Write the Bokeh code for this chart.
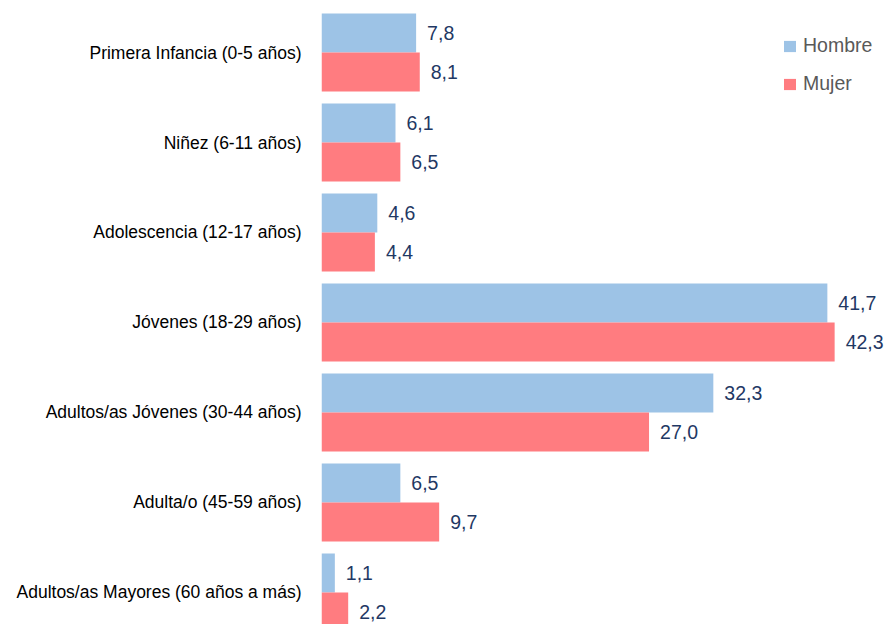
from bokeh.plotting import figure
from bokeh.models import ColumnDataSource, Range1d, FixedTicker, Legend, LegendItem
from bokeh.core.properties import value
from bokeh.embed import file_html
from bokeh.resources import INLINE

categories = [
    "Primera Infancia (0-5 años)",
    "Niñez (6-11 años)",
    "Adolescencia (12-17 años)",
    "Jóvenes (18-29 años)",
    "Adultos/as Jóvenes (30-44 años)",
    "Adulta/o (45-59 años)",
    "Adultos/as Mayores (60 años a más)",
]
hombre = [7.8, 6.1, 4.6, 41.7, 32.3, 6.5, 1.1]
mujer = [8.1, 6.5, 4.4, 42.3, 27.0, 9.7, 2.2]

FONT = "Liberation Sans"
C_H = "#9DC3E6"
C_M = "#FF7C80"
BAR_H = 0.433
OFF = 0.217

idx = list(range(len(categories)))
src_h = ColumnDataSource(dict(
    y=[i - OFF for i in idx], v=hombre,
    lab=[f"{v:.1f}".replace(".", ",") for v in hombre]))
src_m = ColumnDataSource(dict(
    y=[i + OFF for i in idx], v=mujer,
    lab=[f"{v:.1f}".replace(".", ",") for v in mujer]))

p = figure(width=888, height=624, output_backend="svg", toolbar_location=None,
           x_range=Range1d(0, 46.74), y_range=Range1d(6.356, -0.578),
           min_border_left=321, min_border_right=0, min_border_top=0,
           min_border_bottom=0)
p.outline_line_color = None
p.xgrid.visible = False
p.ygrid.visible = False
p.xaxis.visible = False

r_h = p.hbar(y="y", right="v", left=0, height=BAR_H, source=src_h,
             fill_color=C_H, line_color=None)
r_m = p.hbar(y="y", right="v", left=0, height=BAR_H, source=src_m,
             fill_color=C_M, line_color=None)

for src in (src_h, src_m):
    p.text(x="v", y="y", text="lab", source=src, x_offset=11,
           text_baseline="middle", text_align="left",
           text_font=value(FONT), text_font_size="19.5px", text_color="#1F3864")

ax = p.yaxis[0]
ax.ticker = FixedTicker(ticks=idx)
ax.major_label_overrides = {i: c for i, c in enumerate(categories)}
ax.axis_line_color = None
ax.major_tick_line_color = None
ax.minor_tick_line_color = None
ax.major_tick_in = 0
ax.major_tick_out = 0
ax.major_label_standoff = 20
ax.major_label_text_font = FONT
ax.major_label_text_font_size = "17.5px"
ax.major_label_text_color = "#000000"

legend = Legend(items=[LegendItem(label="Hombre", renderers=[r_h]),
                       LegendItem(label="Mujer", renderers=[r_m])],
                location=(461, 529))
legend.border_line_color = None
legend.background_fill_alpha = 0
legend.label_text_font = FONT
legend.label_text_font_size = "19.5px"
legend.label_text_color = "#595959"
legend.glyph_width = 15
legend.glyph_height = 14
legend.label_standoff = 6
legend.spacing = 15
legend.margin = 0
legend.padding = 0
p.add_layout(legend)

open("out.html", "w").write(file_html(p, INLINE))
